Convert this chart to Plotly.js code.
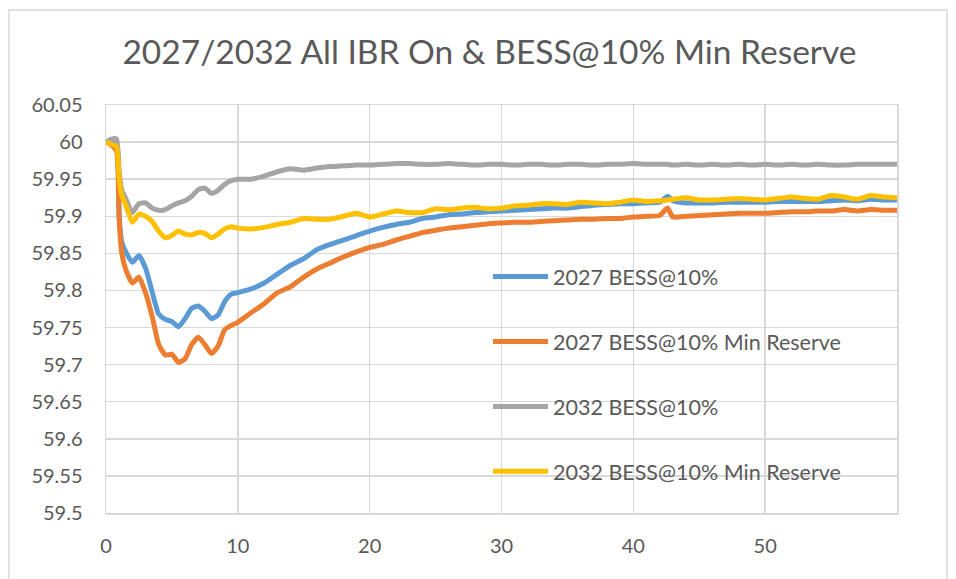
<!DOCTYPE html>
<html>
<head>
<meta charset="utf-8">
<script src="https://cdn.plot.ly/plotly-3.0.1.min.js"></script>
<style>
  html, body { margin: 0; padding: 0; background: #ffffff; }
  #chart { width: 956px; height: 579px; }
</style>
</head>
<body>
<div id="chart"></div>
<script>
// Time axis (seconds) shared by every series
const timeSec = [
  0, 0.4, 0.8, 1.0, 1.2, 1.5, 2, 2.5, 3, 3.5, 4, 4.5, 5, 5.5, 6, 6.5, 7, 7.5, 8, 8.5, 9, 9.5,
  10, 11, 12, 13, 14, 15, 16, 17, 18, 19, 20, 21, 22, 23, 24, 25, 26, 27, 28, 29,
  30, 31, 32, 33, 34, 35, 36, 37, 38, 39, 40, 41, 42, 42.6, 43, 44, 45, 46, 47, 48, 49,
  50, 51, 52, 53, 54, 55, 56, 57, 58, 59, 60
];

// Frequency (Hz)
const freq2027 = [
  60.000, 59.999, 59.995, 59.900, 59.865, 59.852, 59.838, 59.847, 59.830, 59.798, 59.768, 59.761,
  59.758, 59.751, 59.762, 59.776, 59.779, 59.772, 59.762, 59.767, 59.785, 59.795,
  59.797, 59.802, 59.810, 59.822, 59.834, 59.843, 59.855, 59.862, 59.868, 59.874,
  59.880, 59.885, 59.889, 59.892, 59.897, 59.899, 59.902, 59.903, 59.905, 59.906,
  59.907, 59.908, 59.909, 59.910, 59.911, 59.911, 59.913, 59.915, 59.916, 59.917,
  59.917, 59.918, 59.919, 59.927, 59.921, 59.918, 59.918, 59.918, 59.919, 59.919, 59.919,
  59.919, 59.920, 59.920, 59.920, 59.920, 59.921, 59.922, 59.921, 59.923, 59.922, 59.922
];

const freq2027MinRes = [
  60.000, 59.996, 59.988, 59.895, 59.850, 59.828, 59.810, 59.818, 59.797, 59.765, 59.727, 59.713,
  59.714, 59.703, 59.708, 59.727, 59.737, 59.727, 59.715, 59.725, 59.747, 59.753,
  59.757, 59.770, 59.782, 59.797, 59.805, 59.818, 59.829, 59.837, 59.845, 59.852,
  59.858, 59.862, 59.868, 59.873, 59.878, 59.881, 59.884, 59.886, 59.888, 59.890,
  59.891, 59.892, 59.892, 59.893, 59.894, 59.895, 59.896, 59.896, 59.897, 59.897,
  59.899, 59.900, 59.901, 59.911, 59.899, 59.900, 59.901, 59.902, 59.903, 59.904, 59.904,
  59.904, 59.905, 59.906, 59.906, 59.907, 59.907, 59.909, 59.907, 59.909, 59.908, 59.908
];

const freq2032 = [
  60.000, 60.004, 60.004, 59.960, 59.935, 59.924, 59.905, 59.917, 59.918, 59.911, 59.908, 59.909,
  59.914, 59.918, 59.921, 59.927, 59.936, 59.938, 59.931, 59.935, 59.943, 59.948,
  59.950, 59.950, 59.954, 59.960, 59.964, 59.962, 59.965, 59.967, 59.968, 59.969,
  59.969, 59.970, 59.971, 59.971, 59.970, 59.970, 59.971, 59.970, 59.969, 59.970,
  59.970, 59.969, 59.970, 59.970, 59.969, 59.970, 59.970, 59.969, 59.970, 59.970,
  59.971, 59.970, 59.970, 59.970, 59.969, 59.970, 59.969, 59.970, 59.969, 59.970, 59.969,
  59.970, 59.969, 59.970, 59.969, 59.970, 59.969, 59.969, 59.970, 59.970, 59.970, 59.970
];

const freq2032MinRes = [
  60.000, 59.997, 59.994, 59.950, 59.928, 59.915, 59.892, 59.903, 59.900, 59.893, 59.880, 59.871,
  59.874, 59.880, 59.876, 59.875, 59.878, 59.877, 59.871, 59.876, 59.883, 59.886,
  59.884, 59.883, 59.885, 59.889, 59.892, 59.897, 59.896, 59.896, 59.900, 59.904,
  59.899, 59.903, 59.907, 59.905, 59.905, 59.910, 59.909, 59.911, 59.912, 59.910,
  59.911, 59.914, 59.915, 59.917, 59.917, 59.916, 59.919, 59.918, 59.917, 59.919,
  59.922, 59.920, 59.921, 59.922, 59.923, 59.925, 59.922, 59.922, 59.923, 59.924, 59.923,
  59.922, 59.924, 59.926, 59.924, 59.923, 59.928, 59.926, 59.923, 59.928, 59.926, 59.925
];

const seriesNames = [
  '2027 BESS@10%',
  '2027 BESS@10% Min Reserve',
  '2032 BESS@10%',
  '2032 BESS@10% Min Reserve'
];
const seriesColors = ['#5B9BD5', '#ED7D31', '#A5A5A5', '#FFC000'];

const xTickLabels = ['0', '10', '20', '30', '40', '50'];
const yTickLabels = ['59.5', '59.55', '59.6', '59.65', '59.7', '59.75',
                     '59.8', '59.85', '59.9', '59.95', '60', '60.05'];

const chartTitle = '2027/2032 All IBR On & BESS@10% Min Reserve';

const FONT = 'Lato, "Open Sans", sans-serif';
const TEXT_COLOR = '#595959';
const GRID_COLOR = '#d9d9d9';

const seriesValues = [freq2027, freq2027MinRes, freq2032, freq2032MinRes];
const traces = seriesValues.map((vals, i) => ({
  type: 'scatter',
  mode: 'lines',
  x: timeSec,
  y: vals,
  name: seriesNames[i],
  legendgroup: 'g' + i,
  line: { color: seriesColors[i], width: 5, shape: 'spline', smoothing: 0.5 },
  hoverinfo: 'x+y+name'
}));

// plot-area geometry used to place the outer chart border
const M = { l: 106, r: 59, t: 105, b: 66 };
const W = 956, H = 579;
const pw = W - M.l - M.r, ph = H - M.t - M.b;
const px = v => (v - M.l) / pw;
const py = v => (H - M.b - v) / ph;

const layout = {
  width: W,
  height: H,
  margin: M,
  paper_bgcolor: '#ffffff',
  plot_bgcolor: '#ffffff',
  font: { family: FONT, color: TEXT_COLOR, size: 20 },
  title: {
    text: chartTitle,
    font: { family: FONT, size: 33.5, color: TEXT_COLOR },
    x: 489.5 / W, xref: 'container', xanchor: 'center',
    y: 1 - 52 / H, yref: 'container', yanchor: 'middle'
  },
  xaxis: {
    range: [0, 60],
    tickvals: xTickLabels.map(Number),
    ticktext: xTickLabels,
    showgrid: true, gridcolor: GRID_COLOR, gridwidth: 1.5,
    showline: true, linecolor: GRID_COLOR, linewidth: 1.5, mirror: true,
    zeroline: false, ticks: '', ticklabelstandoff: 14,
    tickfont: { family: FONT, size: 20, color: TEXT_COLOR },
    fixedrange: true
  },
  yaxis: {
    range: [59.5, 60.05],
    tickvals: yTickLabels.map(Number),
    ticktext: yTickLabels,
    showgrid: true, gridcolor: GRID_COLOR, gridwidth: 1.5,
    showline: true, linecolor: GRID_COLOR, linewidth: 1.5, mirror: true,
    zeroline: false, ticks: '', ticklabelstandoff: 18,
    tickfont: { family: FONT, size: 20, color: TEXT_COLOR },
    fixedrange: true
  },
  legend: {
    x: px(488), xanchor: 'left',
    y: py(256), yanchor: 'top',
    bgcolor: 'rgba(0,0,0,0)',
    borderwidth: 0,
    font: { family: FONT, size: 21.5, color: TEXT_COLOR },
    tracegroupgap: 34,
    itemwidth: 55
  },
  shapes: [{
    type: 'rect', xref: 'paper', yref: 'paper', layer: 'below',
    x0: px(9), x1: px(947), y0: py(600), y1: py(10),
    line: { color: GRID_COLOR, width: 1.5 }, fillcolor: 'rgba(0,0,0,0)'
  }],
  showlegend: true
};

Plotly.newPlot('chart', traces, layout, { displayModeBar: false, staticPlot: true });
</script>
</body>
</html>
